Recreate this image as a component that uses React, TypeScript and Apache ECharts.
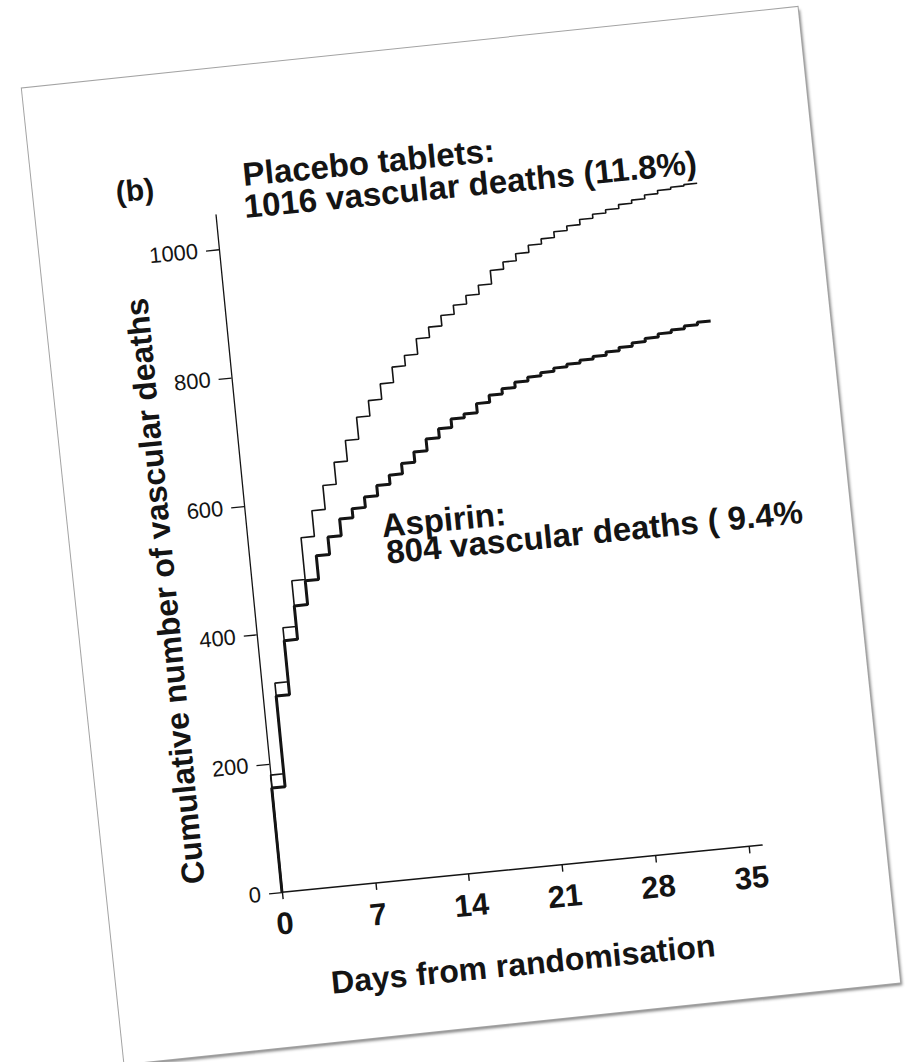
import React, { useEffect, useRef } from "react";
import * as echarts from "echarts";

// ---- data ----
const dayTicks = [0, 7, 14, 21, 28, 35];
const countTicks = [0, 200, 400, 600, 800, 1000];
// cumulative vascular deaths held from day d to day d+1 (d = 0..35)
const placeboDaily = [
  182, 323, 407, 478, 543, 583, 620, 654, 686, 720, 744, 768, 792, 808, 832, 848,
  864, 878, 891, 905, 926, 937, 948, 959, 967, 976, 983, 991, 997, 1002, 1008,
  1013, 1019, 1024, 1027, 1029,
];
const aspirinDaily = [
  162, 303, 387, 439, 476, 513, 540, 566, 580, 596, 612, 626, 642, 658, 676, 690,
  703, 709, 723, 734, 742, 750, 756, 761, 766, 770, 774, 778, 783, 788, 793, 798,
  803, 807, 811, 815,
];
const followUpEnd = 36;
const placeboLabel = ["Placebo tablets:", "1016 vascular deaths (11.8%)"];
const aspirinLabel = ["Aspirin:", "804 vascular deaths ( 9.4%"];
const panelLabel = "(b)";
const xTitle = "Days from randomisation";
const yTitle = "Cumulative number of vascular deaths";

const FONT = '"Liberation Sans", Arial, Helvetica, sans-serif';
const INK = "#141414";

function toSteps(vals: number[]): number[][] {
  const pts: number[][] = [[0, 0]];
  vals.forEach((v, i) => pts.push([i, v]));
  pts.push([followUpEnd, vals[vals.length - 1]]);
  return pts;
}

function txt(text: string, x: number, y: number, size: number, align: string, bold = true, rotation = 0) {
  return {
    type: "text",
    x,
    y,
    rotation,
    silent: true,
    style: {
      text,
      fill: INK,
      font: `${bold ? "bold " : ""}${size}px ${FONT}`,
      textAlign: align,
      textVerticalAlign: "middle",
    },
  };
}

export default function App() {
  const ref = useRef<HTMLDivElement>(null);
  useEffect(() => {
    const chart = echarts.init(ref.current!, null, { renderer: "svg" });
    chart.setOption({
      animation: false,
      backgroundColor: "transparent",
      grid: { left: 177, top: 147.5, width: 482.4, height: 680.5 },
      xAxis: {
        type: "value",
        min: 0,
        max: followUpEnd,
        interval: 7,
        splitLine: { show: false },
        axisLine: { onZero: false, lineStyle: { color: INK, width: 1.5 } },
        axisTick: { show: true, length: 7, customValues: dayTicks, lineStyle: { color: INK, width: 1.4 } },
        axisLabel: {
          customValues: dayTicks,
          formatter: (v: number) => String(v),
          fontSize: 31,
          fontWeight: "bold",
          color: INK,
          fontFamily: FONT,
          margin: 16,
        },
      },
      yAxis: {
        type: "value",
        min: 0,
        max: 1053,
        interval: 200,
        splitLine: { show: false },
        axisLine: { show: true, onZero: false, lineStyle: { color: INK, width: 1.3 } },
        axisTick: { show: true, length: 13, customValues: countTicks, lineStyle: { color: INK, width: 1.3 } },
        axisLabel: {
          customValues: countTicks,
          formatter: (v: number) => String(v),
          fontSize: 22,
          color: INK,
          fontFamily: FONT,
          margin: 21,
        },
      },
      series: [
        {
          name: "Placebo",
          type: "line",
          step: "end",
          showSymbol: false,
          symbol: "none",
          data: toSteps(placeboDaily),
          lineStyle: { color: INK, width: 1.6 },
        },
        {
          name: "Aspirin",
          type: "line",
          step: "end",
          showSymbol: false,
          symbol: "none",
          data: toSteps(aspirinDaily),
          lineStyle: { color: INK, width: 3 },
        },
      ],
      graphic: [
        txt(panelLabel, 99, 115, 30, "center"),
        txt(placeboLabel[0], 208, 110, 33, "left"),
        txt(placeboLabel[1], 206, 142, 33, "left"),
        txt(aspirinLabel[0], 312, 473, 33, "left"),
        txt(aspirinLabel[1], 314, 500, 33, "left"),
        txt(yTitle, 90, 517, 32, "center", true, Math.PI / 2),
        txt(xTitle, 410, 923, 32, "center"),
      ],
    });
    return () => chart.dispose();
  }, []);

  return (
    <div
      style={{
        position: "absolute",
        left: 0,
        top: 0,
        width: 905,
        height: 1062,
        overflow: "hidden",
        background: "#ffffff",
      }}
    >
      <div
        style={{
          position: "absolute",
          left: 71,
          top: 44.5,
          width: 780,
          height: 981,
          background: "#ffffff",
          transform: "rotate(-6deg)",
          boxShadow: "0 0 0 1px #a3a3a3, 2px 3px 3px rgba(0,0,0,0.45)",
        }}
      >
        <div
          ref={ref}
          style={{
            position: "absolute",
            left: 0,
            top: 0,
            width: 780,
            height: 981,
            transform: "rotate(0.4deg)",
          }}
        />
      </div>
    </div>
  );
}
